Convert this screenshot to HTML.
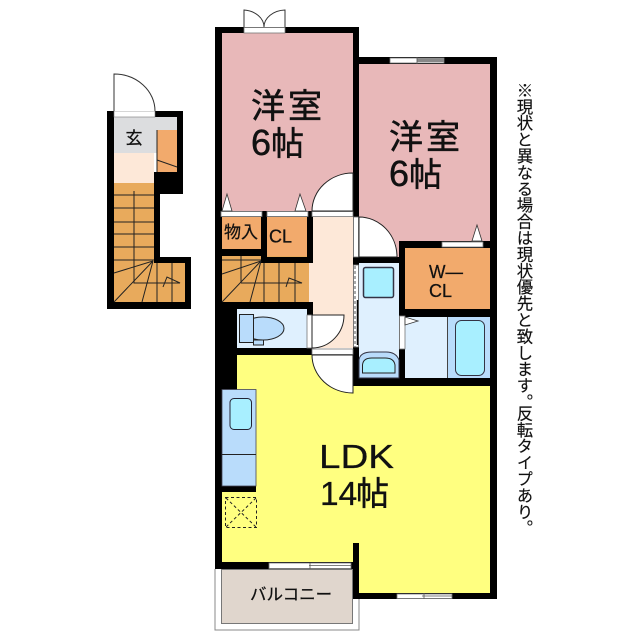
<!DOCTYPE html>
<html><head><meta charset="utf-8"><style>
html,body{margin:0;padding:0;background:#fff}
svg{display:block}
text{font-family:"Liberation Sans","Noto Sans CJK JP",sans-serif;fill:#111}
.b{stroke:#111;stroke-width:.5}
.s{stroke:#111;stroke-width:.25}
.note{position:absolute;left:514px;width:18px;writing-mode:vertical-rl;font:16.4px/18px "Liberation Sans","Noto Sans CJK JP",sans-serif;color:#111;white-space:nowrap;-webkit-text-stroke:.15px #111}
</style></head><body>
<svg width="640" height="640" viewBox="0 0 640 640" xmlns="http://www.w3.org/2000/svg">
<rect width="640" height="640" fill="#fff"/>
<!-- LEFT UNIT -->
<rect x="114" y="117" width="63" height="36" fill="#dcdddf"/>
<rect x="114" y="153" width="40" height="30" fill="#fde8d8"/>
<rect x="157" y="130" width="20" height="42" fill="#f2aa6c"/>
<path d="M157 130V172M157 160L177 167" stroke="#222" stroke-width="1" fill="none"/>
<rect x="114" y="183" width="40" height="80" fill="#e8aa5c"/>
<rect x="114" y="261" width="71" height="41" fill="#e8aa5c"/>
<g fill="#000">
<rect x="107" y="111" width="7" height="198"/>
<rect x="107" y="111" width="76" height="6"/>
<rect x="177" y="111" width="6" height="83"/>
<rect x="154" y="172" width="29" height="22"/>
<rect x="154" y="172" width="6" height="91"/>
<rect x="154" y="257" width="37" height="6"/>
<rect x="185" y="257" width="6" height="52"/>
<rect x="107" y="302" width="84" height="7"/>
</g>
<rect x="114" y="111" width="41" height="6" fill="#fff" stroke="#777" stroke-width=".6"/>
<path d="M114 111V74A41 37 0 0 1 155 111" fill="#fff" stroke="#333" stroke-width="1"/>
<g stroke="#222" stroke-width="1" fill="none">
<path d="M114 195H154M114 208H154M114 222H154M114 234H154M114 247H154M114 260H154"/>
<path d="M134 191V283H180L167 277L163 287"/>
<path d="M153 261L114 273M153 261L114 302M153 261L142 302M157 263V302M172 263V302"/>
</g>
<text x="125.500" y="144" font-size="17" class="s">玄</text>
<!-- MAIN FILLS -->
<rect x="222" y="33" width="131" height="178" fill="#e8b8b9"/>
<rect x="359" y="64" width="131" height="193" fill="#e8b8b9"/>
<rect x="222" y="217" width="39" height="32" fill="#f2aa6c"/>
<rect x="267" y="217" width="40" height="40" fill="#f2aa6c"/>
<rect x="405" y="248" width="85" height="61" fill="#f2aa6c"/>
<rect x="313" y="217" width="40" height="131" fill="#fde8d8"/>
<rect x="309" y="263" width="4" height="39" fill="#fde8d8"/>
<rect x="222" y="256" width="87" height="46" fill="#e8aa5c"/>
<rect x="237" y="309" width="70" height="39" fill="#dff0fe"/>
<rect x="359" y="263" width="40" height="115" fill="#dff0fe"/>
<rect x="405" y="317" width="43" height="61" fill="#dff0fe"/>
<rect x="448" y="317" width="42" height="61" fill="#b9dcfb"/>
<path d="M222 386H490V593H359V562H222Z" fill="#ffff80"/>
<rect x="237" y="355" width="116" height="35" fill="#ffff80"/>
<!-- BALCONY -->
<path d="M215 569V630H359V599" fill="#fff" stroke="#888" stroke-width="1"/>
<rect x="221.500" y="569.500" width="131" height="54" fill="#e0d6cd" stroke="#777" stroke-width="1"/>
<!-- WALLS -->
<g fill="#000">
<rect x="215" y="27" width="7" height="542"/>
<rect x="215" y="27" width="144" height="6"/>
<rect x="353" y="27" width="6" height="190"/>
<rect x="353" y="57" width="144" height="7"/>
<rect x="490" y="57" width="7" height="542"/>
<rect x="215" y="211" width="98" height="6"/>
<rect x="261" y="211" width="6" height="52"/>
<rect x="307" y="211" width="6" height="52"/>
<rect x="222" y="249" width="45" height="7"/>
<rect x="261" y="257" width="52" height="6"/>
<rect x="215" y="302" width="98" height="7"/>
<rect x="307" y="302" width="6" height="13"/>
<rect x="222" y="302" width="15" height="90"/>
<rect x="237" y="348" width="75" height="7"/>
<rect x="353" y="217" width="6" height="169"/>
<rect x="353" y="257" width="52" height="6"/>
<rect x="399" y="241" width="6" height="137"/>
<rect x="399" y="241" width="98" height="7"/>
<rect x="399" y="309" width="98" height="8"/>
<rect x="353" y="378" width="144" height="8"/>
<rect x="222" y="486" width="34" height="6"/>
<rect x="215" y="562" width="138" height="7"/>
<rect x="353" y="543" width="6" height="56"/>
<rect x="353" y="593" width="144" height="6"/>
</g>
<!-- STAIRS 2 -->
<g stroke="#222" stroke-width="1" fill="none">
<path d="M241 256V283M222 260H261"/>
<path d="M261 261L222 274M261 261L222 302M261 261L250 302M264 263V302M279 263V302M295 263V302"/>
<path d="M241 283H302L289 278L286 287"/>
</g>
<!-- WINDOWS / OPENINGS -->
<g fill="#fff" stroke="#777" stroke-width=".8">
<rect x="244" y="27.500" width="41" height="5.500"/>
<rect x="221" y="211.500" width="41" height="5"/>
<rect x="267" y="211.500" width="41" height="5"/>
<rect x="312" y="211.500" width="41" height="5"/>
<rect x="353.500" y="217" width="5" height="40"/>
<rect x="390" y="58" width="54" height="5"/>
<rect x="442" y="242" width="41" height="5"/>
<rect x="399.500" y="316" width="5.500" height="33"/>
<rect x="307" y="315" width="5" height="33"/>
<rect x="312" y="349" width="41" height="5.500"/>
<rect x="353.500" y="265" width="5" height="82"/>
<rect x="269" y="563" width="82" height="5.500"/>
<rect x="397" y="594" width="55" height="4.500"/>
</g>
<path d="M417 58.500H444V62H417Z" fill="#888"/>
<path d="M417 57V64M310 563V569M309 565.500H351M424 593V599M422 596H452" stroke="#555" stroke-width=".8" fill="none"/>
<path d="M355 266V347" stroke="#555" stroke-width="1" stroke-dasharray="3 2" fill="none"/>
<path d="M357.500 300V345" stroke="#000" stroke-width="1.500" fill="none"/>
<!-- DOORS -->
<path d="M244 27V10A22 17 0 0 1 264 27M285 27V10A22 17 0 0 0 264 27" fill="#fff" stroke="#333" stroke-width="1"/>
<path d="M312 211A41 38 0 0 1 353 173V211Z" fill="#fff" stroke="#222" stroke-width="1"/>
<path d="M359 217A38 40 0 0 1 397 257H359Z" fill="#fff" stroke="#222" stroke-width="1"/>
<path d="M312 315H344A32 33 0 0 1 312 348Z" fill="#fff" stroke="#222" stroke-width="1"/>
<path d="M312 355H353V393A41 38 0 0 1 312 355Z" fill="#fff" stroke="#222" stroke-width="1"/>
<!-- TRIANGLES -->
<g fill="#fff" stroke="#333" stroke-width=".8">
<path d="M227 194L222 211H232Z"/>
<path d="M300 194L295 211H306Z"/>
<path d="M477 225L472 241H482Z"/>
<path d="M418 321L405 317V325Z"/>
</g>
<!-- TOILET -->
<ellipse cx="263" cy="328.500" rx="21" ry="11.500" fill="#b9dcfb" stroke="#222" stroke-width="1"/>
<rect x="253.500" y="340" width="10" height="5" fill="#b9dcfb" stroke="#222" stroke-width="1"/>
<rect x="239.500" y="314.500" width="14" height="28" fill="#b9dcfb" stroke="#222" stroke-width="1"/>
<!-- WASH -->
<rect x="363.500" y="267.500" width="30" height="30" rx="2" fill="#a8efff" stroke="#334" stroke-width="1.500"/>
<path d="M359 378V360Q360 352 372 352H386Q396 352 399 360V378Z" fill="#b9dcfb" stroke="#334" stroke-width="1"/>
<path d="M362.500 373V365Q363 358 372 358H385Q394 358 395 365V373Z" fill="#a8efff" stroke="#222" stroke-width="1"/>
<!-- BATH -->
<path d="M447.500 317V378" stroke="#444" stroke-width="1"/>
<rect x="455.500" y="320.500" width="29" height="55" rx="6" fill="#a8efff" stroke="#334" stroke-width="1"/>
<!-- KITCHEN -->
<rect x="222" y="389.500" width="34" height="96.500" fill="#b9dcfb" stroke="#445" stroke-width=".8"/>
<path d="M222 454.500H256" stroke="#222" stroke-width="1"/>
<rect x="230" y="398.500" width="21.500" height="31" rx="4" fill="#a8efff" stroke="#223" stroke-width="1"/>
<g fill="none" stroke="#222" stroke-width="1" stroke-dasharray="3 2.500">
<rect x="225.500" y="497.500" width="31" height="30"/>
<path d="M226 498L256 527M256 498L226 527"/>
</g>
<!-- LABELS -->
<text x="251" y="118" font-size="34" textLength="71" class="b">洋室</text>
<text x="251" y="155" font-size="36" class="b">6</text><text x="271" y="155" font-size="33" class="b">帖</text>
<text x="389" y="149" font-size="34" textLength="71" class="b">洋室</text>
<text x="389" y="186" font-size="36" class="b">6</text><text x="409" y="186" font-size="33" class="b">帖</text>
<text x="224" y="238" font-size="17" class="s">物入</text>
<text x="269" y="242.500" font-size="18" class="s">CL</text>
<text x="429" y="278" font-size="18" textLength="34" lengthAdjust="spacingAndGlyphs" class="s">W—</text>
<text x="429" y="297" font-size="18" class="s">CL</text>
<text x="319" y="468" font-size="33" textLength="75" lengthAdjust="spacingAndGlyphs" class="s">LDK</text>
<text x="320" y="505" font-size="33.500" class="s">14</text><text x="356" y="505" font-size="33" class="b">帖</text>
<text x="250" y="600" font-size="16.500" class="s">バルコニー</text>
</svg>
<div class="note" style="top:82px">※現状と異なる場合は現状優先と致します。</div>
<div class="note" style="top:405px">反転タイプあり。</div>
</body></html>
